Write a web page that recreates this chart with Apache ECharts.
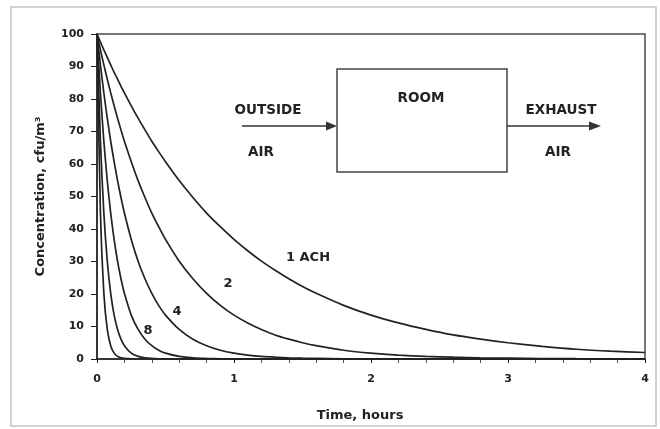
<!DOCTYPE html>
<html>
<head>
<meta charset="utf-8">
<script src="https://cdn.jsdelivr.net/npm/echarts@6/dist/echarts.min.js"></script>
<style>
  html, body { margin: 0; padding: 0; background: #fff; }
  #chart { width: 660px; height: 429px; }
</style>
</head>
<body>
<div id="chart"></div>
<script>
// Sample times (hours)
const times = [0, 0.025, 0.05, 0.075, 0.1, 0.125, 0.15, 0.175, 0.2, 0.25, 0.3, 0.35, 0.4, 0.45, 0.5,
               0.6, 0.7, 0.8, 0.9, 1.0, 1.1, 1.2, 1.3, 1.4, 1.5, 1.6, 1.8, 2.0, 2.2, 2.4, 2.6, 2.8,
               3.0, 3.25, 3.5, 3.75, 4.0];

// Room concentration (cfu/m3) for each air change rate
const ach1  = [100, 97.5, 95.1, 92.8, 90.5, 88.2, 86.1, 83.9, 81.9, 77.9, 74.1, 70.5, 67.0, 63.8, 60.7,
               54.9, 49.7, 44.9, 40.7, 36.8, 33.3, 30.1, 27.3, 24.7, 22.3, 20.2, 16.5, 13.5, 11.1, 9.1, 7.4, 6.1,
               5.0, 3.9, 3.0, 2.4, 2.0];
const ach2  = [100, 95.1, 90.5, 86.1, 81.9, 77.9, 74.1, 70.5, 67.0, 60.7, 54.9, 49.7, 44.9, 40.7, 36.8,
               30.1, 24.7, 20.2, 16.5, 13.5, 11.1, 9.1, 7.4, 6.1, 5.0, 4.1, 2.7, 1.8, 1.2, 0.8, 0.55, 0.37,
               0.25, 0.15, 0.09, 0.06, 0.03];
const ach4  = [100, 90.5, 81.9, 74.1, 67.0, 60.7, 54.9, 49.7, 44.9, 36.8, 30.1, 24.7, 20.2, 16.5, 13.5,
               9.1, 6.1, 4.1, 2.7, 1.8, 1.2, 0.8, 0.55, 0.37, 0.25, 0.17, 0.07, 0.03, 0, 0, 0, 0,
               0, 0, 0, 0, 0];
const ach8  = [100, 81.9, 67.0, 54.9, 44.9, 36.8, 30.1, 24.7, 20.2, 13.5, 9.1, 6.1, 4.1, 2.7, 1.8,
               0.8, 0.37, 0.17, 0.07, 0.03, 0, 0, 0, 0, 0, 0, 0, 0, 0, 0, 0, 0,
               0, 0, 0, 0, 0];
const ach16 = [100, 67.0, 44.9, 30.1, 20.2, 13.5, 9.1, 6.1, 4.1, 1.8, 0.8, 0.37, 0.17, 0.07, 0.03,
               0, 0, 0, 0, 0, 0, 0, 0, 0, 0, 0, 0, 0, 0, 0, 0, 0,
               0, 0, 0, 0, 0];
const ach32 = [100, 44.9, 20.2, 9.1, 4.1, 1.8, 0.8, 0.37, 0.17, 0.03, 0, 0, 0, 0, 0,
               0, 0, 0, 0, 0, 0, 0, 0, 0, 0, 0, 0, 0, 0, 0, 0, 0,
               0, 0, 0, 0, 0];

const xTicks = [0, 1, 2, 3, 4];
const yTicks = [0, 10, 20, 30, 40, 50, 60, 70, 80, 90, 100];

const curves = [ach1, ach2, ach4, ach8, ach16, ach32];

const FONT = '"DejaVu Sans", Verdana, sans-serif';
const INK = '#222222';

const chart = echarts.init(document.getElementById('chart'), null, { renderer: 'canvas' });

const series = curves.map(vals => ({
  type: 'line',
  data: times.map((t, i) => [t, vals[i]]),
  showSymbol: false,
  symbol: 'none',
  smooth: 0.25,
  clip: true,
  lineStyle: { color: INK, width: 1.7 },
  silent: true,
  animation: false
}));

function txt(x, y, s, size) {
  return {
    type: 'text', x: x, y: y, silent: true,
    style: { text: s, fill: INK, font: 'bold ' + size + 'px ' + FONT, align: 'center', verticalAlign: 'middle' }
  };
}

chart.setOption({
  backgroundColor: '#ffffff',
  animation: false,
  grid: {
    left: 97, right: 15, top: 34, bottom: 70,
    show: true, borderColor: '#4a4a4a', borderWidth: 1.5, backgroundColor: 'transparent'
  },
  xAxis: {
    type: 'value', min: xTicks[0], max: xTicks[xTicks.length - 1], interval: 1,
    name: 'Time, hours', nameLocation: 'middle', nameGap: 50,
    nameTextStyle: { fontFamily: FONT, fontWeight: 'bold', fontSize: 13, color: INK, padding: [0, 22, 0, 0] },
    axisLine: { show: true, lineStyle: { color: INK, width: 1.5 } },
    axisTick: { show: true, length: 4, lineStyle: { color: INK } },
    minorTick: { show: true, splitNumber: 5, length: 4, lineStyle: { color: '#555' } },
    splitLine: { show: false },
    axisLabel: { fontFamily: FONT, fontWeight: 'bold', fontSize: 11, color: INK, margin: 15 }
  },
  yAxis: {
    type: 'value', min: yTicks[0], max: yTicks[yTicks.length - 1], interval: 10,
    name: 'Concentration, cfu/m³', nameLocation: 'middle', nameGap: 50,
    nameTextStyle: { fontFamily: FONT, fontWeight: 'bold', fontSize: 13, color: INK },
    axisLine: { show: true, lineStyle: { color: INK, width: 1.5 } },
    axisTick: { show: true, length: 6, lineStyle: { color: INK } },
    splitLine: { show: false },
    axisLabel: { fontFamily: FONT, fontWeight: 'bold', fontSize: 11, color: INK, margin: 13 }
  },
  series: series,
  graphic: [
    // outer frame
    { type: 'rect', shape: { x: 11, y: 7, width: 645, height: 419 }, silent: true,
      style: { fill: 'none', stroke: '#d2d2d2', lineWidth: 2 } },
    // room box
    { type: 'rect', shape: { x: 337, y: 69, width: 170, height: 103 }, silent: true,
      style: { fill: 'none', stroke: '#444', lineWidth: 1.5 } },
    txt(421, 98, 'ROOM', 13.5),
    // inflow arrow
    { type: 'line', shape: { x1: 242, y1: 126, x2: 330, y2: 126 }, silent: true,
      style: { stroke: '#333', lineWidth: 1.5 } },
    { type: 'polygon', shape: { points: [[337, 126], [326, 121.5], [326, 130.5]] }, silent: true,
      style: { fill: '#333' } },
    txt(268, 110, 'OUTSIDE', 13.5),
    txt(261, 152, 'AIR', 13.5),
    // exhaust arrow
    { type: 'line', shape: { x1: 507, y1: 126, x2: 592, y2: 126 }, silent: true,
      style: { stroke: '#333', lineWidth: 1.5 } },
    { type: 'polygon', shape: { points: [[601, 126], [589, 121.5], [589, 130.5]] }, silent: true,
      style: { fill: '#333' } },
    txt(561, 110, 'EXHAUST', 13.5),
    txt(558, 152, 'AIR', 13.5),
    // curve labels
    txt(308, 258, '1 ACH', 13),
    txt(228, 284, '2', 13),
    txt(177, 312, '4', 13),
    txt(148, 331, '8', 13)
  ]
});
</script>
</body>
</html>
